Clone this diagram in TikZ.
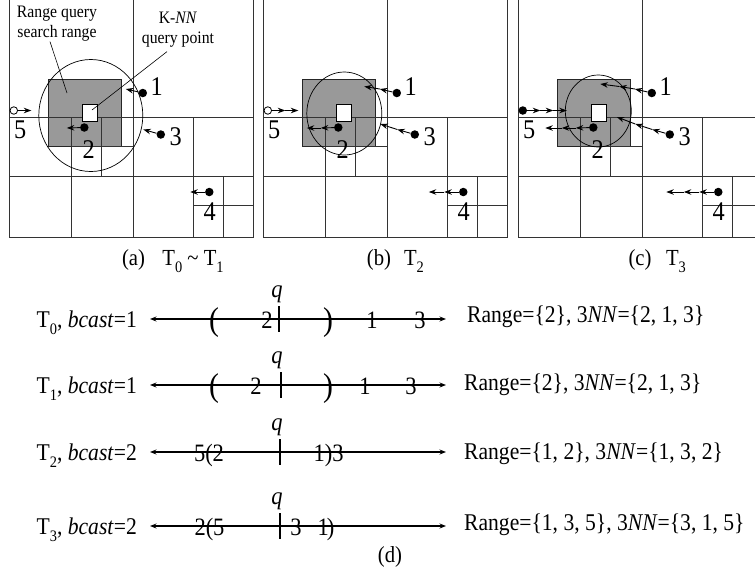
\documentclass[tikz,border=0pt]{standalone}
\usepackage{fontspec}
\setmainfont{Liberation Serif}
\usetikzlibrary{arrows.meta}

\newcommand{\Tn}[1]{T\raisebox{-0.32em}{\fontsize{16}{16}\selectfont #1}}

\tikzset{
  gridline/.style={line width=0.9pt, black!80},
  cell/.style={fill=black!40, draw=black!85, line width=0.9pt},
  qbox/.style={fill=white, draw=black, line width=0.9pt},
  reach/.style={line width=0.7pt},
  obj/.style={circle, fill=black, inner sep=0pt, minimum size=8.5pt},
  newobj/.style={circle, draw=black, fill=white, line width=0.8pt, inner sep=0pt, minimum size=7.5pt},
  move/.style={-{Stealth[length=7.5pt,width=5.5pt]}, line width=0.9pt},
  txt/.style={inner sep=0pt, xscale=0.9},
  objnum/.style={txt, font=\fontsize{27}{27}\selectfont, anchor=base},
  note/.style={txt, font=\fontsize{17.5}{20}\selectfont, align=center, anchor=north},
  pointer/.style={line width=0.6pt},
  capt/.style={txt, font=\fontsize{23}{23}\selectfont, anchor=base},
  timeline/.style={{Stealth[length=6.5pt,width=5pt]}-{Stealth[length=6.5pt,width=5pt]}, line width=1.1pt},
  qtick/.style={line width=1.1pt},
  onaxis/.style={txt, font=\fontsize{25}{25}\selectfont, anchor=base},
  bigpar/.style={txt, font=\fontsize{33}{33}\selectfont, anchor=base},
  rowlabel/.style={txt, font=\fontsize{24}{24}\selectfont, anchor=base east},
  result/.style={txt, font=\fontsize{24}{24}\selectfont, anchor=base west},
}

\begin{document}
\begin{tikzpicture}[x=1pt, y=-1pt]
  \useasboundingbox (0,0) rectangle (755,574);
  \clip (0,0) rectangle (755,574);

  % the three snapshots (a), (b), (c)
  \foreach \tag/\px/\steps/\cx/\cy/\rx/\ry/\fivest in
      {a/9.3/1/81.5/115.5/52/56/newobj, b/263.3/2/81/113.5/37.5/41.5/newobj, c/518.3/3/80/111/33/36/obj} {
    \begin{scope}[shift={(\px,0)}]
      \fill[cell] (38.7,79) rectangle (111.7,146);
      \draw[gridline] (0,-5) -- (0,237) -- (244,237) -- (244,-5);
      \draw[gridline] (124,-5) -- (124,237);
      \draw[gridline] (0,117.5) -- (244,117.5);
      \draw[gridline] (0,176) -- (244,176);
      \draw[gridline] (62,117.5) -- (62,237);
      \draw[gridline] (92.5,117.5) -- (92.5,176);
      \draw[gridline] (62,146) -- (124,146);
      \draw[gridline] (184.5,117.5) -- (184.5,237);
      \draw[gridline] (214,176) -- (214,237);
      \draw[gridline] (184.5,205) -- (244,205);
      \draw[qbox] (73,104.5) rectangle (88,121);
      \draw[reach] (\cx,\cy) ellipse [x radius=\rx, y radius=\ry];
      % objects and where they go
      \node[obj] (\tag1-0) at (133.5,93) {};
      \node[obj] (\tag2-0) at (75,127.5) {};
      \node[obj] (\tag3-0) at (151.5,134.5) {};
      \node[obj] (\tag4-0) at (200,192) {};
      \node[\fivest] (\tag5-0) at (4.5,110.5) {};
      \coordinate (\tag1-1) at (116.5,89);   \coordinate (\tag1-2) at (101,86.5);  \coordinate (\tag1-3) at (82,84);
      \coordinate (\tag2-1) at (57.5,128);   \coordinate (\tag2-2) at (43.5,128);  \coordinate (\tag2-3) at (27,128);
      \coordinate (\tag3-1) at (134,129.5);  \coordinate (\tag3-2) at (117,124);   \coordinate (\tag3-3) at (98.5,117);
      \coordinate (\tag4-1) at (181,192);    \coordinate (\tag4-2) at (165.5,192); \coordinate (\tag4-3) at (148,192);
      \coordinate (\tag5-1) at (22,110.5);   \coordinate (\tag5-2) at (35,110.5);  \coordinate (\tag5-3) at (48.5,110.5);
      \foreach \s in {1,...,\steps} {
        \pgfmathtruncatemacro{\r}{\s-1}
        \foreach \o in {1,...,5} {\draw[move] (\tag\o-\r) -- (\tag\o-\s);}
      }
      \node[objnum] (\tag num1) at (147.5,95) {1};
      \node[objnum] (\tag num2) at (79.5,158) {2};
      \node[objnum] (\tag num3) at (166.5,145) {3};
      \node[objnum] (\tag num4) at (200.5,220) {4};
      \node[objnum] (\tag num5) at (11,138) {5};
    \end{scope}
  }

  % labels in (a)
  \node[note] (rq) at (57,6) {Range query\\search range};
  \node[note] (kq) at (178,12) {K-\textit{NN}\\query point};
  \coordinate (rqtip) at (67,93);
  \coordinate (kqtip) at (92,110);
  \draw[pointer] ([xshift=-7pt]rq.south) -- (rqtip);
  \draw[pointer] ([xshift=-11pt,yshift=-4pt]kq.south) -- (kqtip);

  % captions
  \node[capt] (capa) at (133.5,265) {(a)};
  \node[capt] (tima) at (193,265) {\Tn{0} \textasciitilde{} \Tn{1}};
  \node[capt] (capb) at (379,265) {(b)};
  \node[capt] (timb) at (414,265) {\Tn{2}};
  \node[capt] (capc) at (640,265) {(c)};
  \node[capt] (timc) at (676,265) {\Tn{3}};

  % (d) time lines
  \foreach \row/\y/\bc/\tx in {0/319/1/279, 1/385/1/281, 2/452/2/280, 3/526/2/280} {
    \node[rowlabel] (lab\row) at (137,\y+8) {\Tn{\row}, \textit{bcast}=\bc};
    \coordinate (west\row) at (150,\y);
    \coordinate (east\row) at (446,\y);
    \draw[timeline] (west\row) -- (east\row);
    \draw[qtick] (\tx,\y-13) -- (\tx,\y+13);
    \node[onaxis] (q\row) at (277,\y-22) {\textit{q}};
  }
  \node[bigpar] (lo0) at (214,330) {(};
  \node[onaxis] (p0a) at (267,328) {2};
  \node[bigpar] (hi0) at (328,330) {)};
  \node[onaxis] (p0b) at (372,328) {1};
  \node[onaxis] (p0c) at (420,328) {3};
  \node[bigpar] (lo1) at (214,396) {(};
  \node[onaxis] (p1a) at (256,394) {2};
  \node[bigpar] (hi1) at (328,396) {)};
  \node[onaxis] (p1b) at (365,394) {1};
  \node[onaxis] (p1c) at (411,394) {3};
  \node[onaxis] (p2a) at (209,461) {5(2};
  \node[onaxis] (p2b) at (328.5,461) {1)3};
  \node[onaxis] (p3a) at (209.5,535) {2(5};
  \node[onaxis] (p3b) at (296,535) {3};
  \node[onaxis] (p3c) at (326,535) {1\kern-2pt)};

  \node[result] (res0) at (467,322) {Range=\{2\}, 3\textit{NN}=\{2, 1, 3\}};
  \node[result] (res1) at (464,390) {Range=\{2\}, 3\textit{NN}=\{2, 1, 3\}};
  \node[result] (res2) at (464,459) {Range=\{1, 2\}, 3\textit{NN}=\{1, 3, 2\}};
  \node[result] (res3) at (464,530) {Range=\{1, 3, 5\}, 3\textit{NN}=\{3, 1, 5\}};
  \node[capt] (capd) at (390,562) {(d)};
\end{tikzpicture}
\end{document}
